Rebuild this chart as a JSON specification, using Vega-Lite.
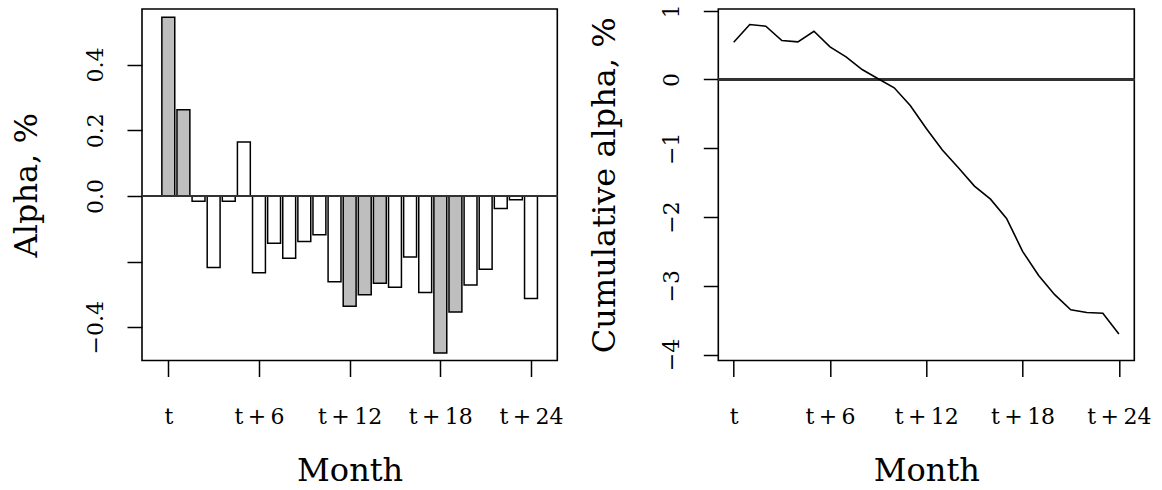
{
  "$schema": "https://vega.github.io/schema/vega-lite/v6.json",
  "background": "white",
  "padding": {"left": 10, "top": 2, "right": 0, "bottom": 0},
  "autosize": {"type": "pad"},
  "config": {
    "font": "DejaVu Serif",
    "view": {"stroke": "black", "strokeWidth": 1.6},
    "axis": {
      "grid": false, "domain": false, "tickColor": "black", "tickWidth": 1.5,
      "labelColor": "black", "titleColor": "black",
      "labelFont": "DejaVu Serif", "titleFont": "DejaVu Serif",
      "labelFontSize": 22, "titleFontSize": 32, "titleFontWeight": "normal",
      "labelOverlap": false, "labelFlush": false
    }
  },
  "datasets": {
    "alpha": [
      {"month": 0, "alpha": 0.544, "sig": "yes"},
      {"month": 1, "alpha": 0.262, "sig": "yes"},
      {"month": 2, "alpha": -0.016, "sig": "no"},
      {"month": 3, "alpha": -0.218, "sig": "no"},
      {"month": 4, "alpha": -0.016, "sig": "no"},
      {"month": 5, "alpha": 0.164, "sig": "no"},
      {"month": 6, "alpha": -0.234, "sig": "no"},
      {"month": 7, "alpha": -0.144, "sig": "no"},
      {"month": 8, "alpha": -0.190, "sig": "no"},
      {"month": 9, "alpha": -0.139, "sig": "no"},
      {"month": 10, "alpha": -0.118, "sig": "no"},
      {"month": 11, "alpha": -0.261, "sig": "no"},
      {"month": 12, "alpha": -0.336, "sig": "yes"},
      {"month": 13, "alpha": -0.301, "sig": "yes"},
      {"month": 14, "alpha": -0.266, "sig": "yes"},
      {"month": 15, "alpha": -0.278, "sig": "no"},
      {"month": 16, "alpha": -0.186, "sig": "no"},
      {"month": 17, "alpha": -0.294, "sig": "no"},
      {"month": 18, "alpha": -0.478, "sig": "yes"},
      {"month": 19, "alpha": -0.353, "sig": "yes"},
      {"month": 20, "alpha": -0.271, "sig": "no"},
      {"month": 21, "alpha": -0.223, "sig": "no"},
      {"month": 22, "alpha": -0.038, "sig": "no"},
      {"month": 23, "alpha": -0.012, "sig": "no"},
      {"month": 24, "alpha": -0.312, "sig": "no"}
    ],
    "cum": [
      {"month": 0, "cum": 0.542},
      {"month": 1, "cum": 0.799},
      {"month": 2, "cum": 0.775},
      {"month": 3, "cum": 0.567},
      {"month": 4, "cum": 0.547},
      {"month": 5, "cum": 0.702},
      {"month": 6, "cum": 0.475},
      {"month": 7, "cum": 0.329},
      {"month": 8, "cum": 0.145},
      {"month": 9, "cum": 0.01},
      {"month": 10, "cum": -0.121},
      {"month": 11, "cum": -0.378},
      {"month": 12, "cum": -0.712},
      {"month": 13, "cum": -1.027},
      {"month": 14, "cum": -1.283},
      {"month": 15, "cum": -1.55},
      {"month": 16, "cum": -1.74},
      {"month": 17, "cum": -2.02},
      {"month": 18, "cum": -2.5},
      {"month": 19, "cum": -2.85},
      {"month": 20, "cum": -3.13},
      {"month": 21, "cum": -3.35},
      {"month": 22, "cum": -3.39},
      {"month": 23, "cum": -3.4},
      {"month": 24, "cum": -3.7}
    ]
  },
  "hconcat": [
    {
      "width": 415.3,
      "height": 351.5,
      "data": {"name": "alpha"},
      "layer": [
        {
          "mark": {"type": "bar", "width": 12.9, "stroke": "black", "strokeWidth": 1.5},
          "encoding": {
            "x": {
              "field": "month", "type": "quantitative",
              "scale": {"domain": [-1.41, 25.41], "nice": false, "zero": false},
              "axis": {
                "values": [0, 6, 12, 18, 24],
                "labelExpr": "datum.value == 0 ? 't' : 't\u2009+\u2009' + datum.value",
                "tickSize": 16, "labelPadding": 30, "labelBaseline": "top", "labelAlign": "center",
                "title": "Month", "titleY": 120, "titleBaseline": "alphabetic"
              }
            },
            "y": {
              "field": "alpha", "type": "quantitative", "stack": null,
              "scale": {"domain": [-0.501, 0.569], "nice": false, "zero": false},
              "axis": {
                "values": [-0.4, -0.2, 0, 0.2, 0.4],
                "format": ".1f",
                "labelExpr": "abs(datum.value + 0.2) < 1e-6 ? '' : datum.label",
                "labelAngle": -90, "labelAlign": "center", "labelBaseline": "alphabetic",
                "tickSize": 15, "labelPadding": 24.7,
                "title": "Alpha, %", "titleAngle": -90, "titleX": -105.2,
                "titleBaseline": "alphabetic", "titleAlign": "center"
              }
            },
            "y2": {"datum": 0},
            "fill": {
              "field": "sig", "type": "nominal",
              "scale": {"domain": ["yes", "no"], "range": ["#bebebe", "white"]},
              "legend": null
            }
          }
        },
        {
          "mark": {"type": "rule", "color": "#333333", "strokeWidth": 1.3},
          "encoding": {"y": {"datum": 0}}
        }
      ]
    },
    {
      "width": 416,
      "height": 351.5,
      "data": {"name": "cum"},
      "layer": [
        {
          "mark": {"type": "rule", "color": "#333333", "strokeWidth": 1.3},
          "encoding": {"y": {"datum": 0}}
        },
        {
          "mark": {"type": "line", "color": "black", "strokeWidth": 1.6},
          "encoding": {
            "x": {
              "field": "month", "type": "quantitative",
              "scale": {"domain": [-0.96, 24.96], "nice": false, "zero": false},
              "axis": {
                "values": [0, 6, 12, 18, 24],
                "labelExpr": "datum.value == 0 ? 't' : 't\u2009+\u2009' + datum.value",
                "tickSize": 16, "labelPadding": 30, "labelBaseline": "top", "labelAlign": "center",
                "title": "Month", "titleY": 120, "titleBaseline": "alphabetic"
              }
            },
            "y": {
              "field": "cum", "type": "quantitative",
              "scale": {"domain": [-4.087, 1.025], "nice": false, "zero": false},
              "axis": {
                "values": [-4, -3, -2, -1, 0, 1],
                "format": "d",
                "labelAngle": -90, "labelAlign": "center", "labelBaseline": "alphabetic",
                "tickSize": 15, "labelPadding": 25,
                "title": "Cumulative alpha, %", "titleAngle": -90, "titleX": -104,
                "titleBaseline": "alphabetic", "titleAlign": "center"
              }
            }
          }
        }
      ]
    }
  ],
  "spacing": 160.3,
  "bounds": "flush"
}
